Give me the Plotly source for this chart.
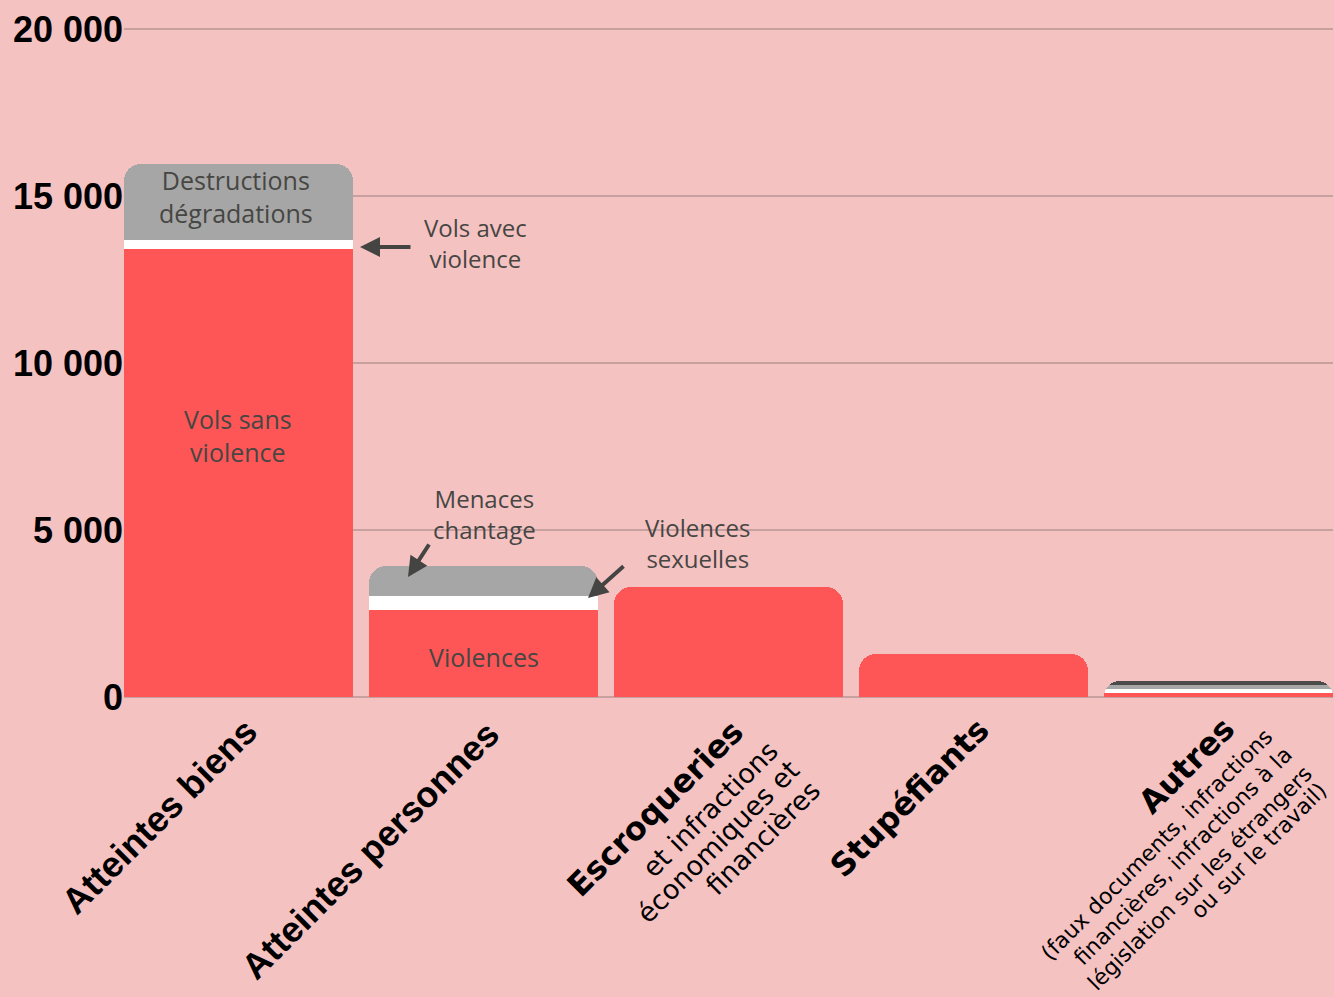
import plotly.graph_objects as go

# ---- data ----
categories = ["Atteintes biens", "Atteintes personnes", "Escroqueries", "Stupéfiants", "Autres"]
seg_main = [13400, 2600, 3290, 1290, 120]      # vols sans violence / violences / ...
seg_white = [270, 420, 0, 0, 120]              # vols avec violence / violences sexuelles
seg_grey = [2290, 900, 0, 0, 120]              # destructions / menaces
seg_dark = [0, 0, 0, 0, 120]
y_tickvals = [0, 5000, 10000, 15000, 20000]
y_ticktext = ["0", "5 000", "10 000", "15 000", "20 000"]

BG = "#f5c2c2"
RED = "#fe5656"
GREY = "#a6a6a6"
DARK = "#4b4b49"
TXT = "#464643"

W, H = 1334, 997
L, R, T, B = 124, 1, 27, 300
pw, ph = W - L - R, H - T - B
YMAX = 20000 + 2 * 20000 / 668


def px(x, y):
    return (x - L) / pw, (H - B - y) / ph


fig = go.Figure()
for vals, col in [(seg_main, RED), (seg_white, "#ffffff"), (seg_grey, GREY), (seg_dark, DARK)]:
    fig.add_trace(go.Bar(x=categories, y=vals, marker=dict(color=col, line=dict(width=0)),
                         hoverinfo="skip"))

ann = []
inner_font = dict(family="Open Sans, Noto Sans, sans-serif", size=24, color=TXT, weight=500)


def txt(x, y, text, size=24):
    xp, yp = px(x, y)
    f = dict(inner_font)
    f["size"] = size
    ann.append(dict(x=xp, y=yp, xref="paper", yref="paper", text=text, showarrow=False,
                    font=f, xanchor="center", yanchor="middle", align="center"))


txt(236, 197, "Destructions<br>dégradations", 25)
txt(238, 435, "Vols sans<br>violence", 25)
txt(484, 657, "Violences", 25)
txt(475, 243, "Vols avec<br>violence")
txt(484, 514, "Menaces<br>chantage")
txt(697, 543, "Violences<br>sexuelles")


def arrow(hx, hy, tx, ty):
    xp, yp = px(hx, hy)
    ann.append(dict(x=xp, y=yp, xref="paper", yref="paper", text="", showarrow=True,
                    ax=tx - hx, ay=ty - hy, axref="pixel", ayref="pixel",
                    arrowhead=2, arrowsize=1, arrowwidth=4, arrowcolor="#444442"))


arrow(360, 247, 412, 247)
arrow(408, 577, 430, 543)
arrow(588, 598, 625, 565)


def rline(x, y, text, family, size, bold=False):
    # anchored at the top-right end of the rotated line
    xp, yp = px(x + 5, y - 9)
    ann.append(dict(x=xp, y=yp, xref="paper", yref="paper", text=text, showarrow=False,
                    textangle=-45, xanchor="right", yanchor="top", borderpad=0,
                    font=dict(family=family, size=size, color="#000000",
                              weight="bold" if bold else "normal")))


LS = "Liberation Sans, Arial"
DV = "DejaVu Sans"
rline(261, 718, "Atteintes biens", LS, 36, True)
rline(503, 721, "Atteintes personnes", LS, 36, True)
rline(993, 719, "Stupéfiants", DV, 32, True)

rline(748, 720, "Escroqueries", DV, 32, True)
rline(780, 743, "et infractions", DV, 27)
rline(802, 762, "économiques et", DV, 27)
rline(823, 782, "financières", DV, 27)

rline(1238, 718, "Autres", DV, 32, True)
rline(1274, 732, "(faux documents, infractions", DV, 22)
rline(1294, 749, "financières, infractions à la", DV, 22)
rline(1313, 769, "législation sur les étrangers", DV, 22)
rline(1328, 785, "ou sur le travail)", DV, 22)

fig.update_layout(
    width=W, height=H,
    barmode="stack", bargap=0.065, barcornerradius=17,
    showlegend=False,
    paper_bgcolor=BG, plot_bgcolor=BG,
    margin=dict(l=L, r=R, t=T, b=B),
    annotations=ann,
    xaxis=dict(range=[-0.4675, 4.4675], showticklabels=False, showgrid=False, zeroline=False,
               fixedrange=True),
    yaxis=dict(range=[0, YMAX], tickvals=y_tickvals, ticktext=y_ticktext,
               tickfont=dict(family="Liberation Sans, Arial", size=36, color="#000000",
                             weight="bold"),
               showgrid=True, gridcolor="#c9a0a0", gridwidth=2,
               zeroline=True, zerolinecolor="#c9a0a0", zerolinewidth=2,
               ticks="", ticklabelstandoff=0, showline=False, layer="below traces"),
)

fig.write_html("out.html", config={"displayModeBar": False},
               post_script="document.body.style.margin='0';")
